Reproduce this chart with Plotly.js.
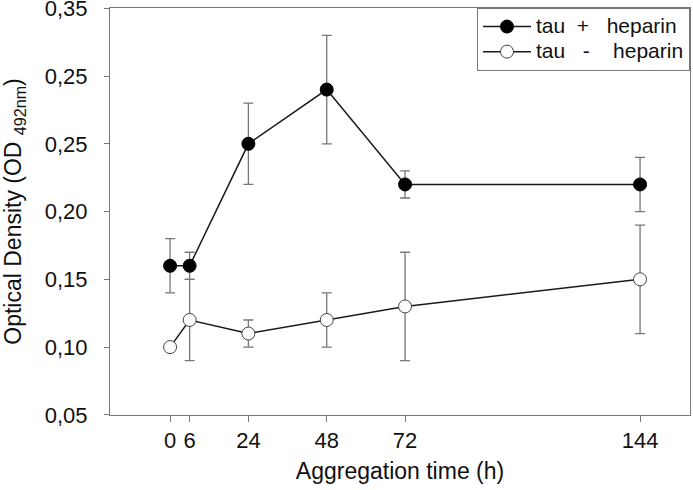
<!DOCTYPE html>
<html>
<head>
<meta charset="utf-8">
<script src="https://cdn.plot.ly/plotly-3.0.1.min.js"></script>
<style>html,body{margin:0;padding:0;background:#fff;}#chart{width:693px;height:490px;}</style>
</head>
<body>
<div id="chart"></div>
<script>
const timeHours = [0, 6, 24, 48, 72, 144];
const tauWithHeparin = [0.16, 0.16, 0.25, 0.29, 0.22, 0.22];
const tauWithHeparinErr = [0.02, 0.01, 0.03, 0.04, 0.01, 0.02];
const tauWithoutHeparin = [0.10, 0.12, 0.11, 0.12, 0.13, 0.15];
const tauWithoutHeparinErr = [0, 0.03, 0.01, 0.02, 0.04, 0.04];
const yTickVals = [0.05, 0.10, 0.15, 0.20, 0.25, 0.30, 0.35];
const yTickText = ['0,05', '0,10', '0,15', '0,20', '0,25', '0,25', '0,35'];
const xTickVals = [0, 6, 24, 48, 72, 144];
const xTickText = ['0', '6', '24', '48', '72', '144'];
const seriesNames = [
  '<span style="font-size:21px">tau\u00a0\u00a0+\u00a0\u00a0\u00a0heparin</span>',
  '<span style="font-size:21px">tau\u00a0\u00a0\u00a0-\u00a0\u00a0\u00a0\u00a0heparin</span>'
];

const F = '"Liberation Sans", Arial, Helvetica, sans-serif';

const traces = [
  {
    x: timeHours, y: tauWithHeparin, name: seriesNames[0],
    type: 'scatter', mode: 'lines+markers',
    line: {color: '#1a1a1a', width: 1.5},
    marker: {color: '#000', size: 13, line: {color: '#000', width: 1}},
    error_y: {type: 'data', array: tauWithHeparinErr, visible: true, color: '#777', thickness: 1.3, width: 5}
  },
  {
    x: timeHours, y: tauWithoutHeparin, name: seriesNames[1],
    type: 'scatter', mode: 'lines+markers',
    line: {color: '#1a1a1a', width: 1.5},
    marker: {color: '#fff', size: 13, line: {color: '#444', width: 1}},
    error_y: {type: 'data', array: tauWithoutHeparinErr, visible: true, color: '#777', thickness: 1.3, width: 5}
  }
];

const layout = {
  width: 693, height: 490,
  margin: {l: 110, r: 3, t: 8, b: 75},
  paper_bgcolor: '#fff', plot_bgcolor: '#fff',
  font: {family: F, size: 22, color: '#111'},
  showlegend: true,
  legend: {
    x: 1, xanchor: 'right', y: 1, yanchor: 'top',
    bgcolor: '#fff', bordercolor: '#777', borderwidth: 1,
    font: {family: F, size: 17, color: '#111'},
    itemwidth: 48,
    tracegroupgap: 0
  },
  xaxis: {
    range: [-18.4, 159.3],
    tickvals: xTickVals, ticktext: xTickText,
    ticks: 'outside', ticklen: 6, tickcolor: '#777', tickwidth: 1,
    showline: true, linecolor: '#777', linewidth: 1, mirror: true,
    showgrid: false, zeroline: false,
    tickfont: {family: F, size: 22, color: '#111'},
    title: {text: 'Aggregation time (h)', font: {family: F, size: 23, color: '#111'}, standoff: 10}
  },
  yaxis: {
    range: [0.0499, 0.3502],
    tickvals: yTickVals, ticktext: yTickText,
    ticks: 'outside', ticklen: 5, tickcolor: '#777', tickwidth: 1,
    ticklabelstandoff: 12,
    ticklabeloverflow: 'allow',
    showline: true, linecolor: '#777', linewidth: 1, mirror: true,
    showgrid: false, zeroline: false,
    tickfont: {family: F, size: 22, color: '#111'},
    title: {text: 'Optical Density (OD <sub>492nm</sub>)', font: {family: F, size: 23, color: '#111'}, standoff: 20}
  }
};

Plotly.newPlot('chart', traces, layout, {displayModeBar: false, staticPlot: true});
</script>
</body>
</html>
